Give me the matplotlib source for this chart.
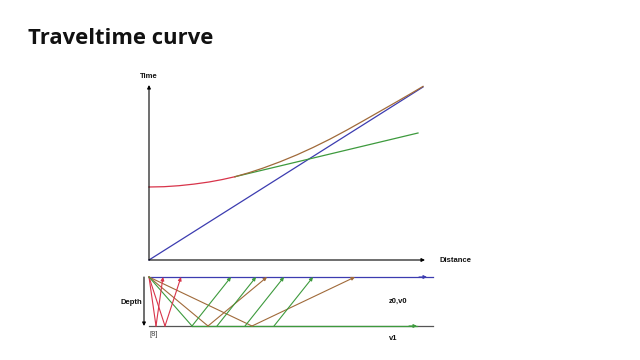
import matplotlib
matplotlib.use("Agg")
import matplotlib.pyplot as plt

# ---------------- data ----------------
# travel-time plot: distance / time in arbitrary units
direct_x = [0, 274]
direct_t = [0, 173]

head_x = [86, 269]
head_t = [83.3, 127]

refl_near_x = [0, 15, 30, 45, 60, 73, 86]
refl_near_t = [73, 73.3, 74.3, 75.9, 78.0, 80.4, 83.3]
refl_far_x = [86, 100, 114, 131, 148, 164, 181, 198, 214, 231, 248, 262, 274]
refl_far_t = [83.3, 87.3, 91.9, 98.2, 105.2, 112.5, 120.9, 130.0, 139.0, 148.7, 158.4, 166.5, 173.6]

# ray diagram: offset along surface, depth of reflector
layer_depth = 49
surface_end = 284
red_bounce = [7, 16]
brown_bounce = [59, 103]
critical_x = 43
head_exit = [43, 68, 96, 125]
head_rise = 39
head_arrow_x = 268

# ---------------- colours ----------------
RED = "#d8344a"
BROWN = "#a06a3a"
GREEN = "#3d9a3d"
BLUE = "#3c3cb0"
GREY = "#555555"

fig = plt.figure(figsize=(6.4, 3.6), dpi=100)
W, H = 640.0, 360.0


def px_axes(x0, y0, x1, y1):
    return fig.add_axes([x0 / W, 1 - y1 / H, (x1 - x0) / W, (y1 - y0) / H])


fig.text(28 / W, 1 - 38 / H, "Traveltime curve", fontsize=15.8, fontweight="bold",
         family="Open Sans", ha="left", va="center", color="#111111")

# ---------------- upper: traveltime curves ----------------
ax = px_axes(100, 70, 450, 265)
ax.set_xlim(-49, 301)
ax.set_ylim(-5, 190)
ax.axis("off")

ax.annotate("", xy=(0, 175), xytext=(0, 0),
            arrowprops=dict(arrowstyle="-|>", color="black", lw=0.8, mutation_scale=5,
                            shrinkA=0, shrinkB=0))
ax.annotate("", xy=(276, 0), xytext=(0, 0),
            arrowprops=dict(arrowstyle="-|>", color="black", lw=0.8, mutation_scale=5,
                            shrinkA=0, shrinkB=0))
lab = dict(fontsize=5.5, fontweight="bold", family="Liberation Sans", color="#111111")
ax.text(0, 184, "Time", ha="center", va="center", **lab)
ax.text(290, 0, "Distance", ha="left", va="center", **lab)

ax.plot(direct_x, direct_t, color=BLUE, lw=0.9)
ax.plot(head_x, head_t, color=GREEN, lw=0.9)
ax.plot(refl_near_x, refl_near_t, color=RED, lw=0.9)
ax.plot(refl_far_x, refl_far_t, color=BROWN, lw=0.9)

# ---------------- lower: ray diagram ----------------
bx = px_axes(100, 270, 450, 345)
bx.set_xlim(-49, 301)
bx.set_ylim(68, -7)
bx.axis("off")

arr = dict(arrowstyle="-|>", lw=0.8, mutation_scale=5, shrinkA=0, shrinkB=0)

# surface and reflector
bx.plot([0, surface_end], [0, 0], color=BLUE, lw=0.9)
bx.annotate("", xy=(278, 0), xytext=(270, 0), arrowprops=dict(color=BLUE, **arr))
bx.plot([0, surface_end], [layer_depth, layer_depth], color=GREY, lw=0.9)
bx.plot([critical_x, head_arrow_x], [layer_depth, layer_depth], color=GREEN, lw=0.9)
bx.annotate("", xy=(head_arrow_x, layer_depth), xytext=(head_arrow_x - 8, layer_depth),
            arrowprops=dict(color=GREEN, **arr))

# depth arrow
bx.annotate("", xy=(-5, layer_depth), xytext=(-5, 0),
            arrowprops=dict(color="black", **arr))

# reflections (red near, brown wide angle)
for xb, c in [(b, RED) for b in red_bounce] + [(b, BROWN) for b in brown_bounce]:
    bx.plot([0, xb], [0, layer_depth], color=c, lw=0.8)
    bx.annotate("", xy=(2 * xb, 0), xytext=(xb, layer_depth),
                arrowprops=dict(color=c, **arr))

# head wave
bx.plot([0, critical_x], [0, layer_depth], color=GREEN, lw=0.8)
for xe in head_exit:
    bx.annotate("", xy=(xe + head_rise, 0), xytext=(xe, layer_depth),
                arrowprops=dict(color=GREEN, **arr))

bx.text(-7, 25, "Depth", ha="right", va="center", **lab)
bx.text(240, 24, "z0,v0", ha="left", va="center", **lab)
bx.text(240, 62, "v1", ha="left", va="center", **lab)
bx.text(0, 57, "[8]", ha="left", va="center", fontsize=5.5, family="Liberation Sans",
        color="#444444")

fig.savefig("out.png", dpi=100, facecolor="white")
